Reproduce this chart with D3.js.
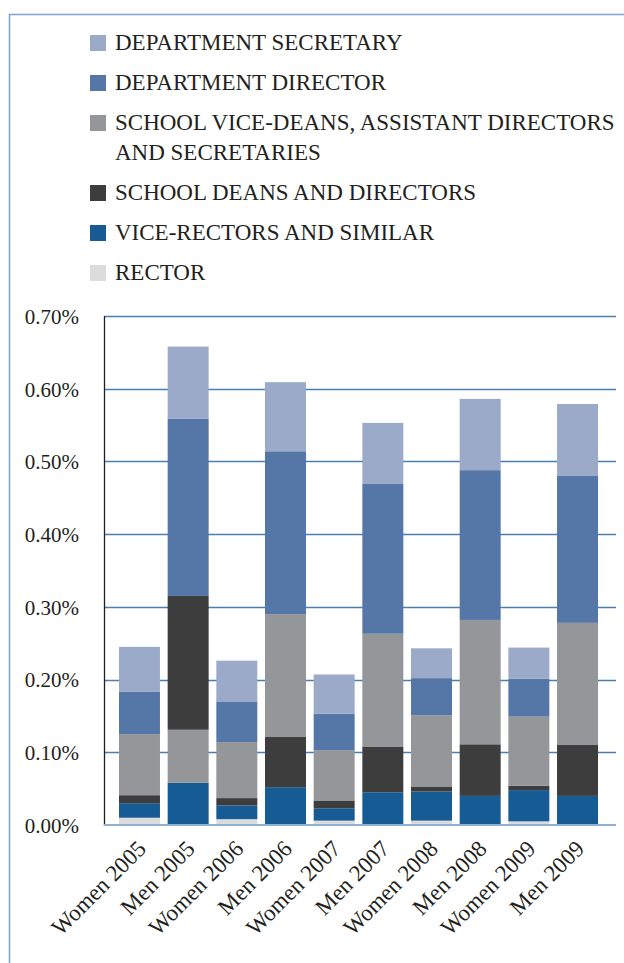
<!DOCTYPE html>
<html>
<head>
<meta charset="utf-8">
<script src="https://cdn.jsdelivr.net/npm/d3@7"></script>
<style>
  html, body { margin: 0; padding: 0; background: #fff; }
  svg { display: block; }
  text { font-family: "Liberation Serif", "DejaVu Serif", serif; fill: #231f20; }
</style>
</head>
<body>
<svg id="chart" width="624" height="963"></svg>
<script>
// ---- data (values in percent) ----
const categories = ["Women 2005", "Men 2005", "Women 2006", "Men 2006", "Women 2007",
                    "Men 2007", "Women 2008", "Men 2008", "Women 2009", "Men 2009"];
const rector        = [0.010, 0.000, 0.008, 0.000, 0.006, 0.000, 0.006, 0.000, 0.005, 0.000];
const viceRectors   = [0.020, 0.058, 0.019, 0.052, 0.017, 0.045, 0.040, 0.040, 0.043, 0.040];
const schoolDeans   = [0.011, 0.184, 0.010, 0.069, 0.010, 0.063, 0.007, 0.071, 0.006, 0.070];
const schoolViceDeans = [0.084, 0.073, 0.077, 0.169, 0.070, 0.155, 0.098, 0.171, 0.095, 0.168];
const deptDirector  = [0.058, 0.244, 0.056, 0.224, 0.050, 0.206, 0.051, 0.206, 0.052, 0.202];
const deptSecretary = [0.062, 0.099, 0.056, 0.095, 0.054, 0.084, 0.041, 0.098, 0.043, 0.099];
const yTicks = [0, 0.1, 0.2, 0.3, 0.4, 0.5, 0.6, 0.7];

const seriesNames = ["RECTOR", "VICE-RECTORS AND SIMILAR", "SCHOOL DEANS AND DIRECTORS",
  "SCHOOL VICE-DEANS, ASSISTANT DIRECTORS AND SECRETARIES", "DEPARTMENT DIRECTOR", "DEPARTMENT SECRETARY"];
const seriesValues = [rector, viceRectors, schoolDeans, schoolViceDeans, deptDirector, deptSecretary];
const seriesColors = ["#dcdcdd", "#165b94", "#3d3d3e", "#959699", "#5577a8", "#9caac9"];
// stacking order (bottom to top) per category; the original has Men 2005 with grey below dark
const defaultOrder = [0, 1, 2, 3, 4, 5];
const stackOrder = categories.map(c => c === "Men 2005" ? [0, 1, 3, 2, 4, 5] : defaultOrder);
// legend lines (top to bottom)
const legendOrder = [5, 4, 3, 2, 1, 0];
const legendLines = {
  5: ["DEPARTMENT SECRETARY"],
  4: ["DEPARTMENT DIRECTOR"],
  3: ["SCHOOL VICE-DEANS, ASSISTANT DIRECTORS", "AND SECRETARIES"],
  2: ["SCHOOL DEANS AND DIRECTORS"],
  1: ["VICE-RECTORS AND SIMILAR"],
  0: ["RECTOR"]
};

// ---- layout ----
const svg = d3.select("#chart");
const plot = { left: 104, right: 616, top: 316, bottom: 825 };

// frame
svg.append("path")
  .attr("d", "M9.5,963 V14.5 H624")
  .attr("fill", "none").attr("stroke", "#7ea5cc").attr("stroke-width", 1.5);

const y = d3.scaleLinear().domain([0, 0.7]).range([plot.bottom, plot.top]);
const x = d3.scaleBand().domain(categories).range([plot.left, 613])
  .paddingInner(0.158).paddingOuter(0.308);

// gridlines
svg.append("g").selectAll("line").data(yTicks.filter(d => d > 0)).join("line")
  .attr("x1", plot.left).attr("x2", plot.right)
  .attr("y1", d => Math.round(y(d)) + 0.5).attr("y2", d => Math.round(y(d)) + 0.5)
  .attr("stroke", "#4a7eb0").attr("stroke-width", 1.6);

// stacked bars (manual stacking to respect per-category order)
const segs = [];
categories.forEach((c, i) => {
  let acc = 0;
  stackOrder[i].forEach(s => {
    const v = seriesValues[s][i];
    segs.push({ cat: c, s, y0: acc, y1: acc + v });
    acc += v;
  });
});
svg.append("g").selectAll("rect").data(segs.filter(d => d.y1 > d.y0)).join("rect")
  .attr("x", d => x(d.cat))
  .attr("width", x.bandwidth())
  .attr("y", d => y(d.y1))
  .attr("height", d => y(d.y0) - y(d.y1))
  .attr("fill", d => seriesColors[d.s]);

// y axis line
svg.append("line").attr("x1", plot.left + 0.5).attr("x2", plot.left + 0.5)
  .attr("y1", plot.top).attr("y2", plot.bottom + 1)
  .attr("stroke", "#231f20").attr("stroke-width", 1.3);
// baseline
svg.append("line").attr("x1", plot.left).attr("x2", plot.right)
  .attr("y1", y(0)).attr("y2", y(0))
  .attr("stroke", "#8fb2d2").attr("stroke-width", 2);

// y tick labels
const yAxis = d3.axisLeft(y).tickValues(yTicks).tickFormat(d => d.toFixed(2) + "%").tickSize(0).tickPadding(0);
const yg = svg.append("g").attr("transform", `translate(79,0)`).call(yAxis);
yg.select(".domain").remove();
yg.selectAll("text").style("font-family", '"Liberation Serif", serif').style("font-size", "21px")
  .attr("fill", "#231f20").attr("dy", "0.35em");

// x labels
const xAxis = d3.axisBottom(x).tickSize(0);
const xg = svg.append("g").attr("transform", `translate(0,${plot.bottom})`).call(xAxis);
xg.select(".domain").remove();
xg.selectAll("text")
  .style("font-family", '"Liberation Serif", serif').style("font-size", "23px")
  .attr("fill", "#231f20")
  .attr("text-anchor", "end")
  .attr("x", 0).attr("y", 0).attr("dy", 0)
  .attr("transform", "translate(8,25) rotate(-45)");

// legend
const lg = svg.append("g");
let ly = 35;
legendOrder.forEach(s => {
  lg.append("rect").attr("x", 90).attr("y", ly).attr("width", 16).attr("height", 16)
    .attr("fill", seriesColors[s]);
  legendLines[s].forEach((line, k) => {
    lg.append("text").attr("x", 115).attr("y", ly + 15 + k * 30)
      .style("font-size", "23px").text(line);
  });
  ly += 40 + (legendLines[s].length - 1) * 30;
});
</script>
</body>
</html>
